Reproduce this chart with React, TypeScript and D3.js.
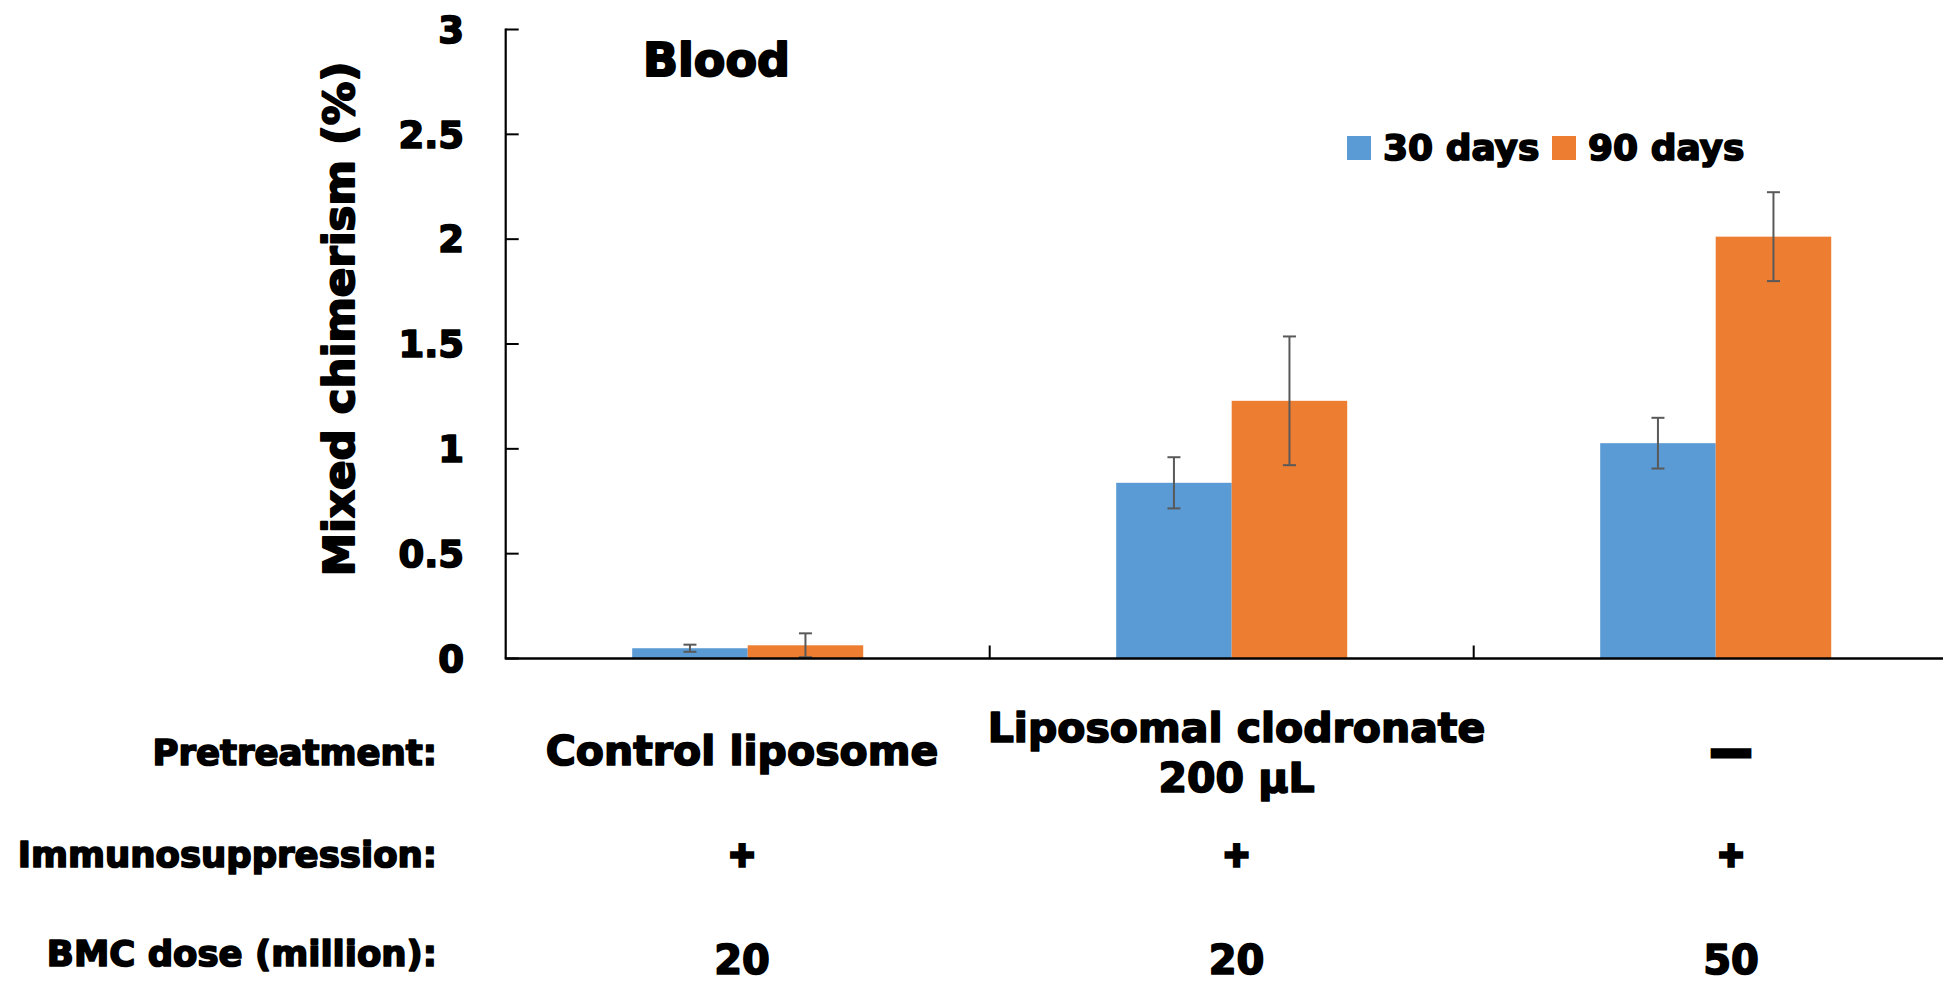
import React from "react";
import * as d3 from "d3";

// Groups along the x axis
const groups = ["control", "clodronate", "none"];
const pretreatment: string[][] = [["Control liposome"], ["Liposomal clodronate", "200 μL"], ["—"]];
const immunosuppression = ["+", "+", "+"];
const bmcDose = ["20", "20", "50"];

// Series
const seriesNames = ["30 days", "90 days"];
const seriesColors = ["#5B9BD5", "#ED7D31"];
const day30 = [0.049, 0.838, 1.027];
const day30Err = [0.017, 0.122, 0.121];
const day90 = [0.063, 1.229, 2.012];
const day90Err = [0.057, 0.307, 0.212];

const yTicks = [0, 0.5, 1, 1.5, 2, 2.5, 3];
const rowLabels = ["Pretreatment:", "Immunosuppression:", "BMC dose (million):"];

const W = 1943;
const H = 982;
const FONT = "'DejaVu Sans', sans-serif";

export default function App() {
  const x0 = 505.7;
  const step = 484;
  const x = d3.scaleBand<string>().domain(groups).range([x0, x0 + step * groups.length]).padding(0);
  const xs = d3.scaleBand<string>().domain(seriesNames).range([0, x.bandwidth()]).paddingInner(0).paddingOuter(1.095);
  const y = d3.scaleLinear().domain([0, 3]).range([658.5, 29.5]);
  const col = d3.scalePoint<string>().domain(groups).range([742, 1731]);

  const values = [day30, day90];
  const errs = [day30Err, day90Err];

  const heavy = { fontFamily: FONT, fontWeight: 700, fill: "#000", stroke: "#000", strokeWidth: 1.7, strokeLinejoin: "round" } as const;

  return (
    <svg width={W} height={H} style={{ position: "absolute", left: 0, top: 0, background: "#fff" }}>
      <rect width={W} height={H} fill="#fff" />

      {/* bars */}
      {seriesNames.map((s, si) =>
        groups.map((g, gi) => {
          const bx = (x(g) as number) + (xs(s) as number);
          const v = values[si][gi];
          return (
            <rect key={s + g} x={bx} y={y(v)} width={xs.bandwidth()} height={y(0) - y(v)} fill={seriesColors[si]} />
          );
        })
      )}

      {/* error bars */}
      {seriesNames.map((s, si) =>
        groups.map((g, gi) => {
          const cx = (x(g) as number) + (xs(s) as number) + xs.bandwidth() / 2;
          const v = values[si][gi];
          const e = errs[si][gi];
          const yt = y(v + e);
          const yb = y(v - e);
          return (
            <g key={"e" + s + g} stroke="#595959" strokeWidth={2}>
              <line x1={cx} x2={cx} y1={yt} y2={yb} />
              <line x1={cx - 6.5} x2={cx + 6.5} y1={yt} y2={yt} />
              <line x1={cx - 6.5} x2={cx + 6.5} y1={yb} y2={yb} />
            </g>
          );
        })
      )}

      {/* y axis */}
      <line x1={x0} x2={x0} y1={y(3) - 1} y2={y(0)} stroke="#000" strokeWidth={2.2} />
      {yTicks.map((t) => (
        <g key={"t" + t}>
          <line x1={x0} x2={x0 + 13} y1={y(t)} y2={y(t)} stroke="#000" strokeWidth={2} />
          <text x={464} y={y(t)} dy="0.36em" textAnchor="end" fontSize={37} {...heavy}>
            {String(t)}
          </text>
        </g>
      ))}

      {/* x axis */}
      <line x1={x0 - 1} x2={W} y1={y(0)} y2={y(0)} stroke="#000" strokeWidth={2.6} />
      {groups.slice(1).map((g) => (
        <line key={"xt" + g} x1={x(g) as number} x2={x(g) as number} y1={y(0)} y2={y(0) - 13} stroke="#000" strokeWidth={2} />
      ))}

      {/* y axis title */}
      <text
        transform={`translate(353.5, ${(y(3) + y(0)) / 2 - 25}) rotate(-90)`}
        textAnchor="middle"
        fontSize={43.5}
        {...heavy}
        strokeWidth={2}
      >
        Mixed chimerism (%)
      </text>

      {/* panel title */}
      <text x={643} y={76} fontSize={46} {...heavy} strokeWidth={2}>
        Blood
      </text>

      {/* legend */}
      {seriesNames.map((s, si) => {
        const lx = [1347, 1552][si];
        return (
          <g key={"lg" + s}>
            <rect x={lx} y={136} width={24} height={24} fill={seriesColors[si]} />
            <text x={lx + 36} y={160} fontSize={36} {...heavy}>
              {s}
            </text>
          </g>
        );
      })}

      {/* condition table */}
      {rowLabels.map((r, ri) => (
        <text key={r} x={437} y={[764.5, 866.7, 966][ri]} textAnchor="end" fontSize={35.5} {...heavy}>
          {r}
        </text>
      ))}
      {groups.map((g, gi) => {
        const lines = pretreatment[gi];
        const cx = col(g) as number;
        const first = lines.length === 1 ? 765 : 741.7;
        return (
          <g key={"c" + g}>
            {lines[0] === "—" ? (
              <text x={cx} y={765} textAnchor="middle" fontSize={40} {...heavy} strokeWidth={5} strokeLinejoin="miter">
                {lines[0]}
              </text>
            ) : (
              lines.map((l, li) => (
                <text key={l} x={cx} y={first + li * 50} textAnchor="middle" fontSize={41} {...heavy}>
                  {l}
                </text>
              ))
            )}
            <text x={cx} y={866} textAnchor="middle" fontSize={33} {...heavy} strokeWidth={3.5} strokeLinejoin="miter">
              {immunosuppression[gi]}
            </text>
            <text x={cx} y={974} textAnchor="middle" fontSize={40} {...heavy}>
              {bmcDose[gi]}
            </text>
          </g>
        );
      })}
    </svg>
  );
}
